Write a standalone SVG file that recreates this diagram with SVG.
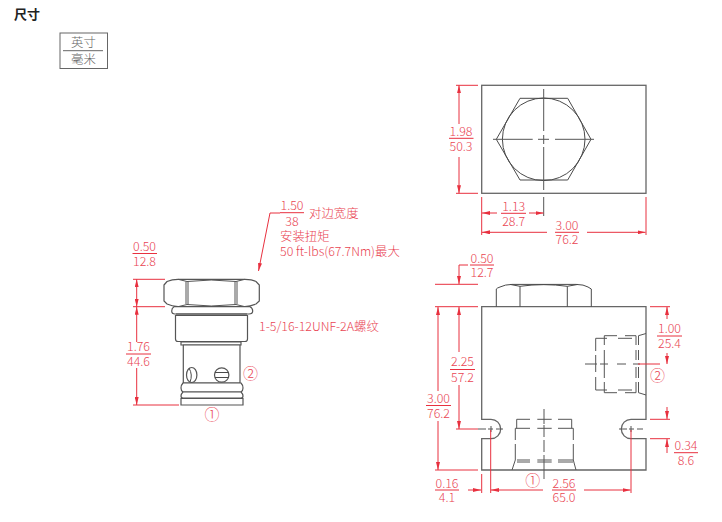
<svg xmlns="http://www.w3.org/2000/svg" width="722" height="522" viewBox="0 0 722 522">
<defs>
<marker id="a" viewBox="0 0 8 4" refX="8" refY="2" markerWidth="8" markerHeight="4" orient="auto-start-reverse" markerUnits="userSpaceOnUse"><path d="M0 0L8 2L0 4Z" fill="#e8303f"/></marker>
</defs>
<style>
text{font-family:"Noto Sans CJK SC","Noto Sans",sans-serif;font-size:12.400px;fill:#e94452;font-weight:300}
.c{text-anchor:middle}
.n{font-size:15px}
.d{fill:none;stroke:#e8303f;stroke-width:1}
.k{fill:none;stroke:#4a4a4a;stroke-width:1}
.g{fill:none;stroke:#666;stroke-width:1.3}
.h{fill:none;stroke:#555;stroke-width:1}
.e{fill:#fff;stroke:#555;stroke-width:1.2}
</style>
<rect width="722" height="522" fill="#fff"/>
<g id="title"><text x="14" y="19" style="font-size:13px;fill:#222;font-weight:700">尺寸</text></g>
<g id="legend">
<rect x="60" y="33" width="47.500" height="35.500" fill="none" stroke="#666"/>
<path d="M63 50.700H103" stroke="#666"/>
<text x="83.500" y="47" class="c" style="fill:#666">英寸</text>
<text x="83.500" y="64" class="c" style="fill:#666">毫米</text>
</g>
<g id="cartridge">
<path class="e" d="M164 285L167 281.500Q172 279.300 178 279.300H245Q252 279.300 256 281.500L259.300 285V301L256 304Q250 306 245 306.700H178Q172 306 167 304L164 301Z"/>
<path class="h" d="M186 281.500V304M188 281.500V304.500M235 281.500V304.500M237 281.500V304M178 279.300L187 281.500Q211 278.500 236 281.500L245 279.300M178 306.700L187 304.500Q211 307.500 236 304.500L245 306.700"/>
<path class="e" d="M174 306.700H250Q252.700 308 252.700 311Q252.700 314 249 314H175Q171.700 314 171.700 311Q171.700 308 174 306.700Z"/>
<path class="e" d="M175.500 315.500H247.500V339Q247.500 341.500 245 341.500H178Q175.500 341.500 175.500 339Z"/>
<path class="k" d="M176 314H247" stroke-width="1.800"/>
<path class="e" d="M181 342H241V345H181Z"/>
<path class="e" d="M183.300 345H240V383H183.300Z"/>
<ellipse class="e" cx="191.700" cy="375" rx="5.200" ry="7.500"/>
<path class="k" d="M189 368Q193 375 190 382"/>
<circle class="e" cx="221.700" cy="375" r="7.200"/>
<path class="k" d="M215 372.500H228.500M215 377.500H228.500"/>
<path class="e" d="M183 383H241Q243 385 243 388Q243 391 241 392H183Q181 391 181 388Q181 385 183 383Z"/>
<path class="e" d="M183 392H241Q243 394 243 396Q243 398 241 398H183Q181 398 181 396Q181 394 183 392Z"/>
<path class="e" d="M181 398.500H243V405H181Z"/>
</g>
<g id="top-view">
<rect class="g" x="481.700" y="85.300" width="164.300" height="108"/>
<path class="k" d="M520 98.300H567.700L591 139.300L567.700 180H520L496.300 139.300Z"/>
<circle class="k" cx="543.700" cy="139.300" r="41.300" stroke-width="1.200"/>
<path class="h" d="M543.700 89V131M543.700 135V144M543.700 147V190M543.700 197V216M493 139.300H532.700M538 139.300H549M555 139.300H594"/>
</g>
<g id="manifold">
<path class="g" d="M481.700 306.700H646V419.300H631A9.700 9.700 0 0 0 631 438.700H646V470H481.700V438.700H491A9.700 9.700 0 0 0 491 419.300H481.700Z"/>
<path class="k" d="M496.300 306.700V289Q497 288 500 287Q505 284.500 512 284.400H576Q584 284.500 588 287L591.300 289V306.700M520 286.300V306.700M567.300 286.300V306.700M510 284.400L520 286.300Q544 283 567.300 286.300L578 284.400"/>
<path class="h" d="M478 429H486M488 429H493M496 429H503M491 426V432M619 429H627M629 429H634M637 429H643M631 426V432"/>
<path class="h" d="M595.700 338.300V351M595.700 355V372M595.700 377V390M604.300 335.700V345M604.300 350V378M604.300 382V392.700M595.700 338.300H607M618 338.300H632M604.300 335.700H617M625 335.700H636M595.700 390H607M618 390H632M604.300 392.700H617M625 392.700H636"/>
<path class="h" d="M636 335.700V345M636 350V360M636 367V378M636 382V392.700M638.500 335.700V345M638.500 350V360M638.500 367V378M638.500 382V392.700M638.500 335.700L646 333.500M638.500 392.700L646 395M585 364H597M600 364H608M617 364H626M633 364H640"/>
<path class="h" d="M516.700 419.300H530M537.300 419.300H551.700M558 419.300H571.700M515.300 428.300H530M537.300 428.300H551.700M558 428.300H573.300M516.700 419.300V428.300M571.700 419.300V428.300M515.300 428.300V440M515.300 444V460M573.300 428.300V440M573.300 444V460M517 460H530M537.300 460H551.700M558 460H573M517 462H530M537.300 462H551.700M558 462H573M515.300 460L512 470M573.300 460L576 470"/>
<path class="h" d="M544 409V424M544 425V437M544 440V452M544 455V479"/>
</g>
<g id="connectors">
<path class="d" marker-end="url(#a)" d="M280 213H270L258.500 271"/>
<path class="d" d="M133 279.300H165M133 306.700H165M133 405H179"/>
<path class="d" marker-start="url(#a)" marker-end="url(#a)" d="M136.700 279.300V306.700"/>
<path class="d" marker-end="url(#a)" d="M136.700 342V306.700"/>
<path class="d" marker-end="url(#a)" d="M136.700 368V405"/>
<path class="d" d="M456 85.300H478M456 193.300H478M481.700 197V235M646 197V235"/>
<path class="d" marker-end="url(#a)" d="M459 124V85.300"/>
<path class="d" marker-end="url(#a)" d="M459 157V193.300"/>
<path class="d" marker-end="url(#a)" d="M497 213H482"/>
<path class="d" marker-end="url(#a)" d="M529 213H543.500"/>
<path class="d" marker-end="url(#a)" d="M547 232.300H482"/>
<path class="d" marker-end="url(#a)" d="M587 232.300H645.500"/>
<path class="d" d="M435 284.300H478M435 306.700H478M435 470H478"/>
<path class="d" marker-end="url(#a)" d="M468 265H459V284"/>
<path class="d" marker-end="url(#a)" d="M438 391V307"/>
<path class="d" marker-end="url(#a)" d="M438 421V470"/>
<path class="d" marker-end="url(#a)" d="M459 352V307"/>
<path class="d" marker-end="url(#a)" d="M459 385V429"/>
<path class="d" d="M456 429H478M650 306.700H670M650 419.300H670M650 438.700H670M638 364H660M481.700 474V493M490.700 430V493M631 430V493"/>
<path class="d" marker-end="url(#a)" d="M667 319V307"/>
<path class="d" marker-end="url(#a)" d="M667 353V364"/>
<path class="d" marker-end="url(#a)" d="M667 407V419"/>
<path class="d" marker-end="url(#a)" d="M667 453V439"/>
<path class="d" marker-end="url(#a)" d="M468 490H481"/>
<path class="d" marker-end="url(#a)" d="M543 490H491"/>
<path class="d" marker-end="url(#a)" d="M584 490H630.500"/>
<path class="d" d="M280 212.700H304M132.500 253.500H157M126 354H151M449 138.300H473.500M501 213.300H526M555 232.300H579M470 265H494M450 369.500H475M426 405.500H451M657 336H682M674 452.700H698M435 490H459M552 490H576"/>
</g>
<g id="labels">
<text x="292" y="210" class="c">1.50</text><text x="292" y="225.500" class="c">38</text>
<text x="309" y="218">对边宽度</text><text x="280" y="241">安装扭矩</text><text x="280" y="256">50 ft-lbs(67.7Nm)最大</text>
<text x="144.500" y="251" class="c">0.50</text><text x="144.500" y="266" class="c">12.8</text>
<text x="138.500" y="351" class="c">1.76</text><text x="138.500" y="366" class="c">44.6</text>
<text x="259" y="331">1-5/16-12UNF-2A螺纹</text>
<text x="250.600" y="378.500" class="c n">②</text><text x="212" y="419.500" class="c n">①</text>
<text x="461" y="136" class="c">1.98</text><text x="461" y="150.500" class="c">50.3</text>
<text x="513.700" y="211" class="c">1.13</text><text x="513.700" y="225.500" class="c">28.7</text>
<text x="567" y="230" class="c">3.00</text><text x="567" y="244" class="c">76.2</text>
<text x="482" y="262.500" class="c">0.50</text><text x="482" y="277" class="c">12.7</text>
<text x="462.500" y="366" class="c">2.25</text><text x="462.500" y="381.500" class="c">57.2</text>
<text x="438.500" y="403" class="c">3.00</text><text x="438.500" y="418" class="c">76.2</text>
<text x="669.500" y="333" class="c">1.00</text><text x="669.500" y="348" class="c">25.4</text>
<text x="657.500" y="381" class="c n">②</text>
<text x="686" y="450" class="c">0.34</text><text x="686" y="465" class="c">8.6</text>
<text x="447" y="488" class="c">0.16</text><text x="447" y="502" class="c">4.1</text>
<text x="532.700" y="486" class="c n">①</text>
<text x="564" y="488" class="c">2.56</text><text x="564" y="502" class="c">65.0</text>
</g>
</svg>
